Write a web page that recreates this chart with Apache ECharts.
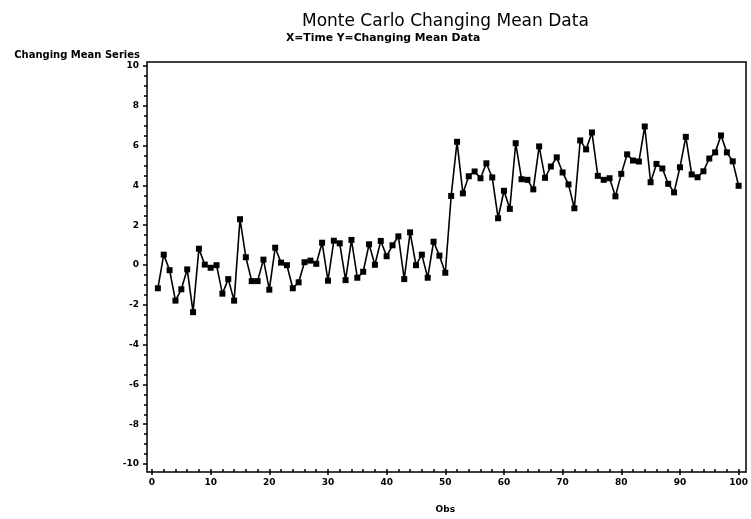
<!DOCTYPE html>
<html>
<head>
<meta charset="utf-8">
<script src="https://cdn.jsdelivr.net/npm/echarts@6/dist/echarts.min.js"></script>
<style>html,body{margin:0;padding:0;background:#fff}#c{width:751px;height:519px}</style>
</head>
<body>
<div id="c"></div>
<script>
const obs = Array.from({length: 100}, (_, i) => i + 1);
const seriesValues = [
  -1.17, 0.52, -0.26, -1.79, -1.22, -0.22, -2.37, 0.82, 0.02, -0.14,
  -0.01, -1.44, -0.71, -1.79, 2.30, 0.39, -0.81, -0.81, 0.27, -1.24,
  0.87, 0.12, -0.01, -1.17, -0.87, 0.14, 0.22, 0.06, 1.12, -0.79,
  1.22, 1.09, -0.76, 1.26, -0.64, -0.34, 1.04, 0.01, 1.21, 0.44,
  0.99, 1.44, -0.71, 1.64, -0.01, 0.52, -0.64, 1.17, 0.47, -0.39,
  3.47, 6.19, 3.60, 4.46, 4.70, 4.36, 5.11, 4.40, 2.35, 3.73,
  2.82, 6.12, 4.31, 4.28, 3.80, 5.96, 4.38, 4.95, 5.41, 4.65,
  4.05, 2.85, 6.26, 5.81, 6.66, 4.48, 4.28, 4.36, 3.45, 4.58,
  5.56, 5.25, 5.20, 6.96, 4.16, 5.08, 4.85, 4.08, 3.65, 4.91,
  6.44, 4.55, 4.41, 4.71, 5.35, 5.66, 6.51, 5.66, 5.21, 3.98
];
const xTicks = [0, 10, 20, 30, 40, 50, 60, 70, 80, 90, 100];
const yTicks = [-10, -8, -6, -4, -2, 0, 2, 4, 6, 8, 10];
const titleText = 'Monte Carlo Changing Mean Data';
const subtitleText = 'X=Time Y=Changing Mean Data';
const xName = 'Obs';
const yName = 'Changing Mean Series';

const lblFont = {fontFamily: 'DejaVu Sans', fontWeight: 'bold', fontSize: 9, color: '#000'};
const chart = echarts.init(document.getElementById('c'), null, {renderer: 'canvas'});
chart.setOption({
  animation: false,
  backgroundColor: '#fff',
  title: [
    {text: titleText, left: 297, top: 8,
     textStyle: {fontFamily: 'DejaVu Sans', fontWeight: 'normal', fontSize: 17, color: '#000'}},
    {text: subtitleText, left: 281, top: 28,
     textStyle: {fontFamily: 'DejaVu Sans', fontWeight: 'bold', fontSize: 10.8, color: '#000'}}
  ],
  grid: [
    {left: 147, right: 5, top: 62, bottom: 47, show: true, borderColor: '#000', borderWidth: 1.5, backgroundColor: 'transparent'},
    {left: 152, right: 9, top: 66, bottom: 52}
  ],
  xAxis: [
    {gridIndex: 0, type: 'value', show: false, min: 0, max: 1},
    {gridIndex: 1, type: 'value', min: xTicks[0], max: xTicks[xTicks.length - 1], interval: 10,
     position: 'bottom', offset: 5,
     name: xName, nameLocation: 'middle', nameGap: 36,
     nameTextStyle: lblFont,
     axisLine: {show: false, onZero: false},
     axisTick: {show: true, length: 6, lineStyle: {color: '#000', width: 1.5}},
     minorTick: {show: true, splitNumber: 5, length: 3, lineStyle: {color: '#000', width: 1.5}},
     splitLine: {show: false},
     axisLabel: Object.assign({margin: 9}, lblFont)}
  ],
  yAxis: [
    {gridIndex: 0, type: 'value', show: false, min: 0, max: 1},
    {gridIndex: 1, type: 'value', min: yTicks[0], max: yTicks[yTicks.length - 1], interval: 2,
     position: 'left', offset: 5,
     name: yName, nameLocation: 'end', nameGap: 6,
     nameTextStyle: Object.assign({align: 'right', padding: [0, 7, 0, 0]}, lblFont, {fontSize: 10}),
     axisLine: {show: false, onZero: false},
     axisTick: {show: true, length: 4, lineStyle: {color: '#000', width: 1.5}},
     minorTick: {show: true, splitNumber: 4, length: 3, lineStyle: {color: '#000', width: 1.5}},
     splitLine: {show: false},
     axisLabel: Object.assign({margin: 8}, lblFont)}
  ],
  series: [{
    type: 'line',
    xAxisIndex: 1, yAxisIndex: 1,
    data: obs.map((o, i) => [o, seriesValues[i]]),
    symbol: 'rect', symbolSize: 6,
    itemStyle: {color: '#000'},
    lineStyle: {color: '#000', width: 1.6}
  }]
});
</script>
</body>
</html>
